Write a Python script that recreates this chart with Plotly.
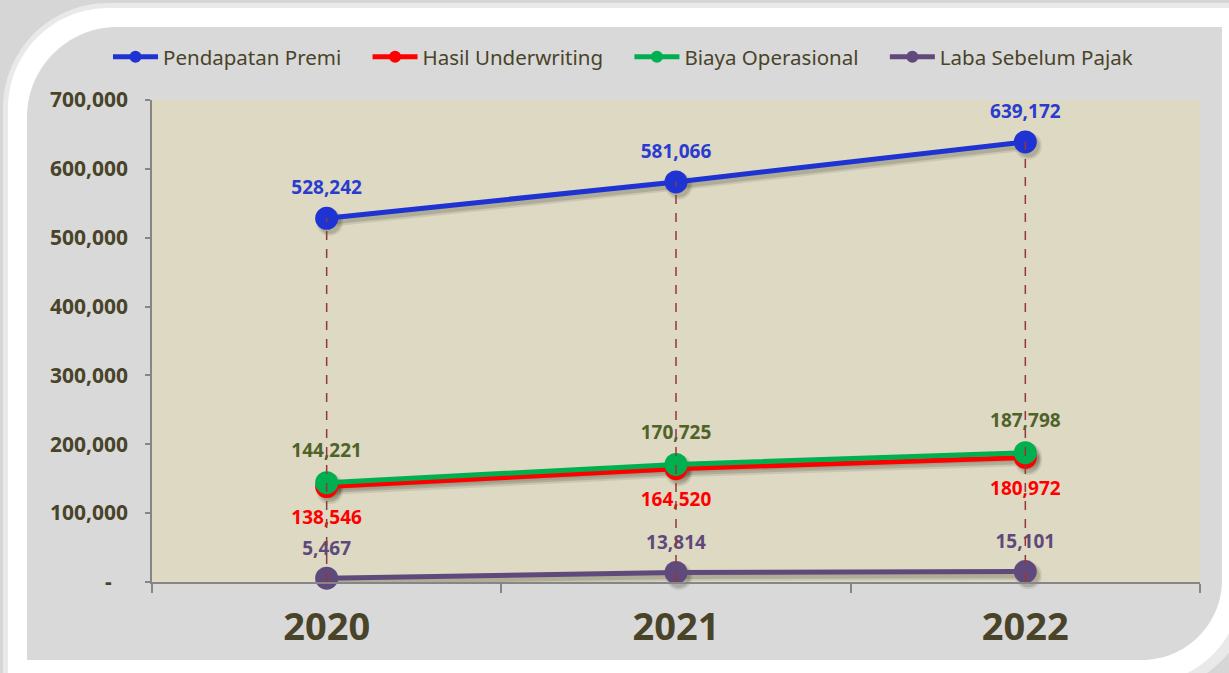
import plotly.graph_objects as go

# ---- data ----
years = ["2020", "2021", "2022"]
pendapatan_premi = [528242, 581066, 639172]
hasil_underwriting = [138546, 164520, 180972]
biaya_operasional = [144221, 170725, 187798]
laba_sebelum_pajak = [5467, 13814, 15101]

series_names = ["Pendapatan Premi", "Hasil Underwriting", "Biaya Operasional", "Laba Sebelum Pajak"]
series_values = [pendapatan_premi, hasil_underwriting, biaya_operasional, laba_sebelum_pajak]
line_colors = ["#1f32d2", "#ff0000", "#00b050", "#604a7b"]
label_colors = ["#2a3cd0", "#ff0000", "#4f6228", "#5f497a"]
label_pos = ["top center", "bottom center", "top center", "top center"]
label_pad = [29, 36, 32, 28]   # invisible marker size that pushes each label away from its point

y_tick_vals = [0, 100000, 200000, 300000, 400000, 500000, 600000, 700000]
y_tick_text = ["-\u00a0\u00a0\u00a0", "100,000", "200,000", "300,000", "400,000", "500,000", "600,000", "700,000"]
Y_MAX = 700000

W, H = 1229, 673
L, R, T, B = 152, 1200, 100, 582
TXT = "#494429"
FONT = "Noto Sans"
LEGEND_PAD = "\u00a0" * 4

# shadow offset (pixels) expressed in axis units
SH_DX = 3 / ((R - L) / 3)
SH_DY = 4 * Y_MAX / (B - T)


def px(x):
    return (x - L) / (R - L)


def py(y):
    return (B - y) / (B - T)


def rounded_path(x0, y0, x1, y1, r_tl, r_br):
    pts = [
        ("M", [(x0, y0 + r_tl)]),
        ("C", [(x0, y0 + r_tl * 0.45), (x0 + r_tl * 0.45, y0), (x0 + r_tl, y0)]),
        ("L", [(x1, y0)]),
        ("L", [(x1, y1 - r_br)]),
        ("C", [(x1, y1 - r_br * 0.45), (x1 - r_br * 0.45, y1), (x1 - r_br, y1)]),
        ("L", [(x0, y1)]),
    ]
    s = ""
    for cmd, ps in pts:
        s += cmd + " " + " ".join(f"{px(a):.5f},{py(b):.5f}" for a, b in ps) + " "
    return s + "Z"


fig = go.Figure()

# soft shadows (on the hidden, slightly shifted axes x/y)
for vals in series_values:
    fig.add_trace(go.Scatter(
        x=years, y=vals, mode="lines+markers", showlegend=False, hoverinfo="skip",
        line=dict(color="rgba(40,40,20,0.10)", width=9),
        marker=dict(color="rgba(40,40,20,0.10)", size=27),
        xaxis="x", yaxis="y", cliponaxis=False,
    ))
    fig.add_trace(go.Scatter(
        x=years, y=vals, mode="lines+markers", showlegend=False, hoverinfo="skip",
        line=dict(color="rgba(40,40,20,0.16)", width=5),
        marker=dict(color="rgba(40,40,20,0.16)", size=23),
        xaxis="x", yaxis="y", cliponaxis=False,
    ))

# main series (on the visible axes x2/y2)
for name, vals, col in zip(series_names, series_values, line_colors):
    fig.add_trace(go.Scatter(
        x=years, y=vals, name=name + LEGEND_PAD, mode="lines+markers",
        line=dict(color=col, width=5),
        marker=dict(color=col, size=23),
        xaxis="x2", yaxis="y2", cliponaxis=False,
    ))

# value labels
for vals, col, pos, pad in zip(series_values, label_colors, label_pos, label_pad):
    fig.add_trace(go.Scatter(
        x=years, y=vals, mode="markers+text", showlegend=False, hoverinfo="skip",
        text=[f"{v:,}" for v in vals], textposition=pos,
        textfont=dict(family=FONT, size=19, color=col, weight="bold"),
        marker=dict(size=pad, color="rgba(0,0,0,0)"),
        xaxis="x2", yaxis="y2", cliponaxis=False,
    ))

# dashed drop lines from the axis to the highest point of each year
drop_x, drop_y = [], []
for i, yr in enumerate(years):
    top = max(v[i] for v in series_values)
    drop_x += [yr, yr, None]
    drop_y += [0, top, None]
fig.add_trace(go.Scatter(
    x=drop_x, y=drop_y, mode="lines", showlegend=False, hoverinfo="skip",
    line=dict(color="#953735", width=1.5, dash="dash"),
    xaxis="x2", yaxis="y2", cliponaxis=False,
))

shapes = [
    dict(type="path", xref="paper", yref="paper", layer="below",
         path=rounded_path(3, 3, 1252, 692, 105, 105), fillcolor="#e9e9e9", line=dict(width=0)),
    dict(type="path", xref="paper", yref="paper", layer="below",
         path=rounded_path(8, 8, 1242, 684, 100, 100), fillcolor="#ffffff", line=dict(width=0)),
    dict(type="path", xref="paper", yref="paper", layer="below",
         path=rounded_path(27, 27, 1222, 660, 90, 80), fillcolor="#d9d9d9", line=dict(width=0)),
    dict(type="rect", xref="paper", yref="paper", layer="below",
         x0=0, x1=1, y0=0, y1=1, fillcolor="#ddd9c3", line=dict(width=0)),
]

fig.update_layout(
    width=W, height=H,
    margin=dict(l=L, r=W - R, t=T, b=H - B, pad=0, autoexpand=False),
    paper_bgcolor="#d6d6d6",
    plot_bgcolor="rgba(0,0,0,0)",
    font=dict(family=FONT, color=TXT),
    showlegend=True,
    legend=dict(
        orientation="h", xref="paper", yref="paper",
        x=px(108), xanchor="left", y=py(57), yanchor="middle",
        font=dict(family=FONT, size=20.5, color=TXT), bgcolor="rgba(0,0,0,0)",
        itemsizing="constant", itemwidth=45, traceorder="normal",
    ),
    shapes=shapes,
    xaxis=dict(type="category", range=[-0.5 - SH_DX, 2.5 - SH_DX], visible=False,
               categoryorder="array", categoryarray=years),
    yaxis=dict(range=[SH_DY, Y_MAX + SH_DY], visible=False),
    xaxis2=dict(
        type="category", categoryorder="array", categoryarray=years,
        overlaying="x", anchor="y2", side="bottom",
        range=[-0.5, 2.5], tickson="boundaries",
        ticks="outside", ticklen=9, tickwidth=2, tickcolor="#868686",
        showline=True, linecolor="#868686", linewidth=2, showgrid=False, zeroline=False,
        tickfont=dict(family=FONT, size=38, color=TXT, weight="bold"),
        ticklabelstandoff=10,
    ),
    yaxis2=dict(
        overlaying="y", anchor="x2", side="left",
        range=[0, Y_MAX], tickvals=y_tick_vals, ticktext=y_tick_text,
        ticks="outside", ticklen=5, tickwidth=1.5, tickcolor="#868686",
        showline=True, linecolor="#868686", linewidth=1.5, showgrid=False, zeroline=False,
        tickfont=dict(family=FONT, size=21, color=TXT, weight="bold"),
        ticklabelstandoff=13,
    ),
)

fig.write_html(
    "out.html",
    config={"displayModeBar": False},
    post_script="document.body.style.margin='0px';document.body.style.overflow='hidden';",
)
